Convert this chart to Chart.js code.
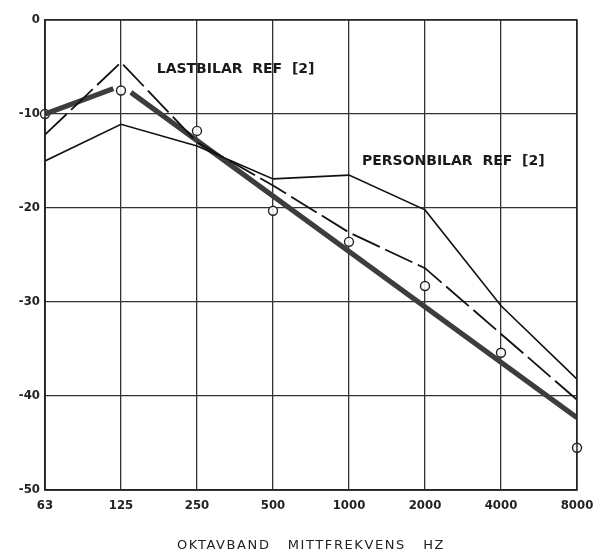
<!DOCTYPE html>
<html>
<head>
<meta charset="utf-8">
<script src="https://cdn.jsdelivr.net/npm/chart.js@4/dist/chart.umd.min.js"></script>
<style>
html,body{margin:0;padding:0;background:#fff;}
#wrap{width:595px;height:553px;}
</style>
</head>
<body>
<div id="wrap"><canvas id="c" width="595" height="553"></canvas></div>
<script>
// Octave band centre frequencies (category labels)
const categories = ['63','125','250','500','1000','2000','4000','8000'];
const yTicks = [0,-10,-20,-30,-40,-50];

// Thin solid line (personbilar ref [2])
const personbilar = [-15.0,-11.1,-13.4,-16.9,-16.5,-20.2,-30.4,-38.2];
// Dashed line (lastbilar ref [2])
const lastbilar = [-12.2,-4.5,-13.0,-17.6,-22.6,-26.4,-33.4,-40.4];
// Thick line, drawn in two pieces (gap around the 125 Hz point)
const thickA_x = [0,0.9];
const thickA_y = [-10.0,-7.3];
const thickB_x = [1.13,7];
const thickB_y = [-7.7,-42.3];
// Measured points (open circles)
const measured = [-10.0,-7.5,-11.8,-20.3,-23.6,-28.3,-35.4,-45.5];

const annotations = [
  {text:'LASTBILAR  REF  [2]', x:1.47, y:-5.2},
  {text:'PERSONBILAR  REF  [2]', x:4.17, y:-15.0}
];

const toXY = (ys) => ys.map((v,i)=>({x:i,y:v}));
const pairXY = (xs,ys) => xs.map((v,i)=>({x:v,y:ys[i]}));

const textPlugin = {
  id:'texts',
  afterDatasetsDraw(chart){
    const {ctx, scales:{x,y}} = chart;
    ctx.save();
    ctx.fillStyle = '#1a1a1a';
    ctx.font = 'bold 14px "DejaVu Sans", sans-serif';
    ctx.letterSpacing = '0px';
    ctx.textAlign = 'left';
    ctx.textBaseline = 'middle';
    annotations.forEach(a=>{
      ctx.fillText(a.text, x.getPixelForValue(a.x), y.getPixelForValue(a.y));
    });
    ctx.restore();
  }
};

const bgPlugin = {
  id:'bg',
  beforeDraw(chart){
    const {ctx,width,height} = chart;
    ctx.save();
    ctx.fillStyle='#ffffff';
    ctx.fillRect(0,0,width,height);
    ctx.restore();
    const xs = chart.scales.x;
    if (!xs._spacedTitle) {
      const orig = xs.drawTitle.bind(xs);
      xs.drawTitle = function(){
        const c = this.ctx; const prev = c.letterSpacing;
        c.letterSpacing = '1.6px';
        orig();
        c.letterSpacing = prev;
      };
      xs._spacedTitle = true;
    }
  }
};

new Chart(document.getElementById('c'), {
  type:'line',
  data:{
    datasets:[
      {label:'Personbilar', data:toXY(personbilar), borderColor:'#111', borderWidth:1.6, pointRadius:0, tension:0},
      {label:'Lastbilar', data:toXY(lastbilar), borderColor:'#111', borderWidth:1.8, borderDash:[30,6], pointRadius:0, tension:0},
      {label:'Thick A', data:pairXY(thickA_x,thickA_y), borderColor:'#3d3d3d', borderWidth:5.2, pointRadius:0, tension:0},
      {label:'Thick B', data:pairXY(thickB_x,thickB_y), borderColor:'#3d3d3d', borderWidth:5.2, pointRadius:0, tension:0},
      {label:'Measured', data:toXY(measured), showLine:false, clip:false, pointRadius:4.5, pointBorderWidth:1.4, pointBorderColor:'#222', pointBackgroundColor:'rgba(255,255,255,0.85)', pointStyle:'circle'}
    ]
  },
  options:{
    responsive:false,
    animation:false,
    devicePixelRatio:1,
    layout:{padding:{top:20,right:18,left:0,bottom:0}},
    plugins:{legend:{display:false}, tooltip:{enabled:false}},
    scales:{
      x:{
        type:'linear', min:0, max:7,
        afterFit(s){ s.height = 63; s.paddingLeft = 0; s.paddingRight = 0; },
        afterBuildTicks(s){ s.ticks = categories.map((c,i)=>({value:i})); },
        ticks:{
          callback:(v)=>categories[v],
          color:'#222',
          font:{family:'"DejaVu Sans Condensed", "DejaVu Sans", sans-serif', size:13, weight:'bold'},
          padding:8, maxRotation:0, autoSkip:false
        },
        grid:{color:'#333', lineWidth:1.3, drawTicks:false},
        border:{color:'#222', width:1.6},
        title:{display:true, text:'OKTAVBAND   MITTFREKVENS   HZ', color:'#222',
          font:{family:'"DejaVu Sans", sans-serif', size:13}, padding:{top:4,bottom:0}}
      },
      y:{
        type:'linear', min:-50, max:0,
        afterFit(s){ s.width = 45; s.paddingTop = 0; s.paddingBottom = 0; },
        afterBuildTicks(s){ s.ticks = yTicks.map(v=>({value:v})); },
        ticks:{
          callback:(v)=>String(v),
          color:'#222',
          font:{family:'"DejaVu Sans Condensed", "DejaVu Sans", sans-serif', size:13, weight:'bold'},
          padding:5
        },
        grid:{color:'#333', lineWidth:1.3, drawTicks:false},
        border:{color:'#222', width:1.6}
      }
    }
  },
  plugins:[bgPlugin, textPlugin, {
    id:'frame',
    afterDraw(chart){
      const {ctx, chartArea:a} = chart;
      ctx.save(); ctx.strokeStyle='#222'; ctx.lineWidth=1.4;
      ctx.strokeRect(a.left,a.top,a.right-a.left,a.bottom-a.top);
      ctx.restore();
    }
  }]
});
</script>
</body>
</html>
